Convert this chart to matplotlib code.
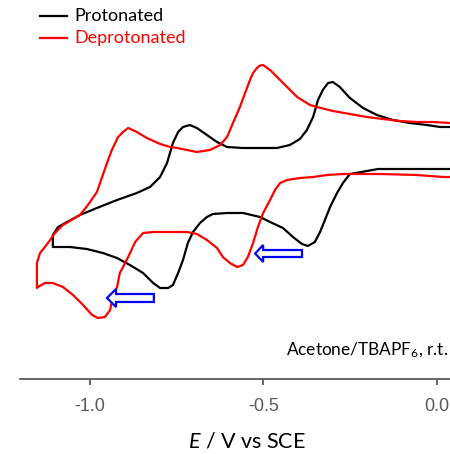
import matplotlib
matplotlib.use("Agg")
import matplotlib.pyplot as plt
from matplotlib.patches import Polygon

plt.rcParams['axes.unicode_minus'] = False
plt.rcParams['mathtext.fontset'] = 'custom'
plt.rcParams['mathtext.rm'] = 'Lato'
plt.rcParams['mathtext.it'] = 'Lato:italic'

# ---- data (potential E in V vs SCE, current in arbitrary units) ----
# Protonated: forward (cathodic) scan, right -> left
prot_fwd_E = [0.037, -0.170, -0.202, -0.251, -0.271, -0.288, -0.308, -0.323, -0.337, -0.352,
              -0.372, -0.389, -0.415, -0.444, -0.481, -0.510, -0.559, -0.605, -0.646, -0.663,
              -0.683, -0.703, -0.718, -0.732, -0.746, -0.761, -0.775, -0.798, -0.818, -0.847,
              -0.885, -0.922, -0.963, -1.009, -1.058, -1.107]
prot_fwd_I = [21.0, 21.0, 20.8, 20.5, 19.6, 18.6, 17.2, 15.9, 14.7, 13.7,
              13.3, 13.5, 14.2, 15.1, 15.7, 16.2, 16.6, 16.6, 16.5, 16.2,
              15.6, 14.7, 13.6, 11.9, 10.6, 9.4, 9.1, 9.1, 9.6, 10.6,
              11.4, 12.1, 12.6, 13.0, 13.2, 13.2]
# Protonated: reverse (anodic) scan, left -> right
prot_rev_E = [-1.107, -1.092, -1.066, -1.029, -0.980, -0.922, -0.865, -0.827, -0.798, -0.778,
              -0.761, -0.746, -0.732, -0.712, -0.692, -0.663, -0.634, -0.605, -0.559, -0.461,
              -0.424, -0.395, -0.375, -0.357, -0.343, -0.329, -0.314, -0.300, -0.280, -0.251,
              -0.213, -0.173, -0.127, -0.078, -0.029, 0.009, 0.037]
prot_rev_I = [14.4, 15.2, 15.7, 16.4, 17.1, 17.9, 18.6, 19.2, 20.2, 21.6,
              23.6, 24.7, 25.2, 25.4, 25.1, 24.4, 23.7, 23.2, 23.1, 23.1,
              23.4, 24.0, 24.9, 26.2, 27.9, 28.9, 29.6, 29.7, 29.2, 28.1,
              27.1, 26.4, 25.9, 25.6, 25.4, 25.2, 25.2]

# Deprotonated: forward scan
deprot_fwd_E = [0.037, 0.017, -0.058, -0.164, -0.271, -0.317, -0.357, -0.395, -0.432, -0.452,
                -0.467, -0.481, -0.501, -0.516, -0.530, -0.545, -0.559, -0.576, -0.597, -0.617,
                -0.634, -0.663, -0.692, -0.720, -0.761, -0.818, -0.847, -0.870, -0.890, -0.905,
                -0.914, -0.922, -0.934, -0.942, -0.957, -0.977, -0.994, -1.020, -1.049, -1.078,
                -1.107, -1.130, -1.150]
deprot_fwd_I = [20.2, 20.2, 20.4, 20.5, 20.5, 20.4, 20.2, 20.1, 19.9, 19.6,
                18.9, 17.9, 16.6, 15.2, 13.6, 12.2, 11.4, 11.2, 11.6, 12.2,
                13.1, 13.9, 14.5, 14.7, 14.7, 14.7, 14.6, 13.7, 12.2, 11.2,
                10.6, 9.2, 8.2, 6.9, 6.2, 6.1, 6.4, 7.4, 8.4, 9.2,
                9.6, 9.6, 9.2]
# Deprotonated: reverse scan
deprot_rev_E = [-1.153, -1.153, -1.153, -1.144, -1.130, -1.115, -1.101, -1.078, -1.029, -1.006,
                -0.980, -0.965, -0.951, -0.937, -0.919, -0.905, -0.890, -0.865, -0.836, -0.798,
                -0.769, -0.749, -0.692, -0.654, -0.625, -0.605, -0.588, -0.568, -0.553, -0.539,
                -0.530, -0.519, -0.510, -0.501, -0.493, -0.481, -0.461, -0.432, -0.403, -0.366,
                -0.346, -0.300, -0.251, -0.202, -0.156, -0.107, -0.058, -0.012, 0.037]
deprot_rev_I = [9.1, 10.2, 11.6, 12.6, 13.2, 13.9, 14.6, 15.4, 16.4, 17.4,
                18.7, 20.2, 21.6, 22.9, 24.2, 24.7, 25.1, 24.7, 24.1, 23.5,
                23.2, 23.1, 22.7, 22.9, 23.4, 24.2, 25.6, 27.2, 28.6, 29.9,
                30.6, 31.1, 31.35, 31.4, 31.2, 30.9, 30.2, 29.2, 28.2, 27.4,
                27.2, 26.8, 26.5, 26.2, 26.0, 25.8, 25.7, 25.7, 25.6]

series_labels = ["Protonated", "Deprotonated"]
series_colors = ["black", "#FF0000"]
tick_values = [-1.0, -0.5, 0.0]
tick_labels = ["-1.0", "-0.5", "0.0"]

# ---- figure ----
W, H = 450, 454
fig = plt.figure(figsize=(W / 100, H / 100), dpi=100)
ax = fig.add_axes([20 / W, 75 / H, 430 / W, 379 / H])
ax.set_xlim(-1.2017, 0.0375)
ax.set_ylim(0, 37.9)

curves = [(prot_fwd_E + prot_rev_E, prot_fwd_I + prot_rev_I),
          (deprot_fwd_E + deprot_rev_E, deprot_fwd_I + deprot_rev_I)]
for (E, I), lab, col in zip(curves, series_labels, series_colors):
    ax.plot(E, I, color=col, lw=1.6, label=lab, solid_joinstyle='round')

for s in ['top', 'right', 'left']:
    ax.spines[s].set_visible(False)
ax.spines['bottom'].set_color('#595959')
ax.spines['bottom'].set_linewidth(1.3)
ax.set_yticks([])
ax.set_xticks(tick_values)
ax.set_xticklabels(tick_labels, fontfamily='Liberation Sans', fontsize=13, color='#595959')
ax.tick_params(axis='x', direction='out', length=4.5, width=1.3, color='#595959', pad=9)

# legend (manual)
for i, (lab, col) in enumerate(zip(series_labels, series_colors)):
    yf = (379 - (16 + 22 * i)) / 379
    ax.plot([(40 - 20) / 430, (67 - 20) / 430], [yf, yf], transform=ax.transAxes,
            color=col, lw=1.6, clip_on=False)
    ax.text((74 - 20) / 430, yf, lab, transform=ax.transAxes, color=col,
            fontfamily='Lato', fontsize=13, va='center', ha='left')

ax.text((448 - 20) / 430, (379 - 355) / 379, "Acetone/TBAPF$_6$, r.t.", transform=ax.transAxes,
        fontfamily='Lato', fontsize=12.4, ha='right', va='baseline', color='black')

fig.text(247 / W, (H - 448) / H, "$E$ / V vs SCE", fontfamily='Lato', fontsize=15.5,
         ha='center', va='baseline', color='black')

# blue hollow arrows (annotations showing scan direction)
def hollow_arrow(tail, hb, tip, y, bh, hh):
    pts = [(tail, y + bh), (hb, y + bh), (hb, y + hh), (tip, y), (hb, y - hh), (hb, y - bh), (tail, y - bh)]
    ax.add_patch(Polygon(pts, closed=True, facecolor='white', edgecolor='#0000FF', lw=1.6, zorder=5))

hollow_arrow(-0.816, -0.925, -0.951, 8.1, 0.4, 0.9)
hollow_arrow(-0.389, -0.501, -0.524, 12.55, 0.35, 0.85)

fig.savefig("out.png", dpi=100)
